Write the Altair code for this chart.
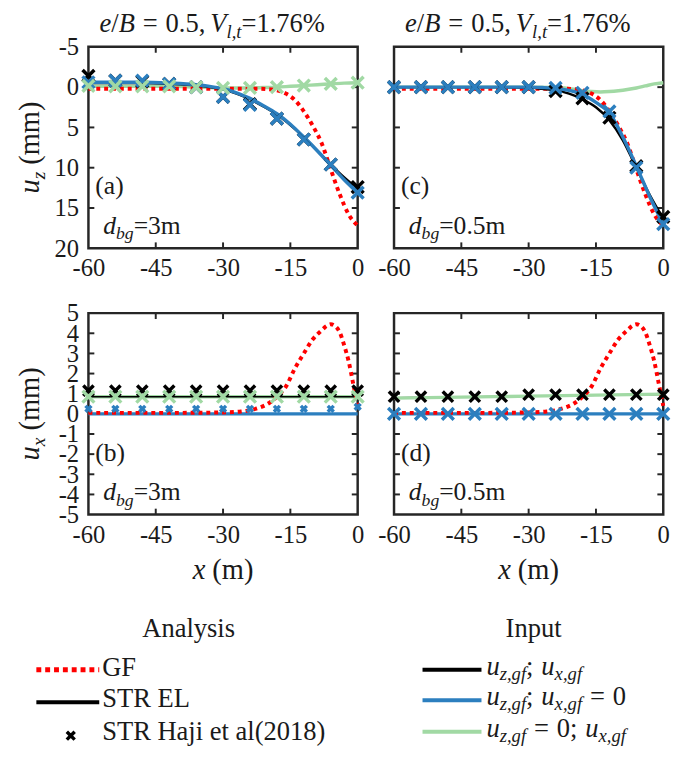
import altair as alt
import pandas as pd

FONT = "Liberation Serif, Times New Roman, serif"
TXT = "#1a1a1a"
FRAME = "#262626"
BLUE = "#2c7fbf"
GREEN = "#a1d9a4"
RED = "#ff0000"
BLACK = "#000000"
W, H = 274, 205

# ---------------- data ----------------
X_TICKS = [-60, -45, -30, -15, 0]
UZ_TICKS = [-5, 0, 5, 10, 15, 20]
UX_TICKS = [-5, -4, -3, -2, -1, 0, 1, 2, 3, 4, 5]
UZ_INNER = [0, 5, 10, 15]
UX_INNER = [-4, -3, -2, -1, 0, 1, 2, 3, 4]
X_INNER = [-45, -30, -15]

X_MARK = [-60, -54, -48, -42, -36, -30, -24, -18, -12, -6, 0]

# GF (greenfield) analysis
GF_UZ_X = [-60, -50, -40, -30, -26, -22, -20, -18, -16, -14, -12, -10, -8, -6, -4, -2, 0]
GF_UZ = [0.2, 0.2, 0.2, 0.2, 0.2, 0.2, 0.25, 0.4, 0.8, 1.6, 3.0, 4.8, 7.0, 10.2, 13.3, 15.8, 17.2]
GF_UX_X = [-60, -50, -40, -30, -26, -24, -22, -20, -18, -16, -14, -12, -10, -8, -7, -6, -5, -4, -3, -2, -1, 0]
GF_UX = [0.05, 0.05, 0.05, 0.07, 0.12, 0.18, 0.3, 0.5, 0.85, 1.35, 2.25, 3.0, 3.7, 4.15, 4.35, 4.45, 4.35, 4.05, 3.4, 2.6, 1.5, 0.4]

# panel (a): u_z, d_bg = 3 m
A_LINE_X = [-60, -54, -48, -42, -36, -33, -30, -27, -24, -21, -18, -15, -12, -9, -6, -3, 0]
A_BLACK = [-0.5, -0.5, -0.5, -0.4, -0.2, 0.0, 0.3, 0.8, 1.5, 2.4, 3.4, 4.7, 6.2, 7.9, 9.6, 11.2, 12.6]
A_BLUE = [-0.6, -0.6, -0.6, -0.5, -0.3, -0.1, 0.2, 0.7, 1.4, 2.3, 3.3, 4.6, 6.2, 7.9, 9.7, 11.5, 13.1]
A_GREEN = [-0.15, -0.1, -0.1, -0.1, 0.0, 0.05, 0.1, 0.1, 0.1, 0.05, 0.0, -0.1, -0.2, -0.3, -0.4, -0.5, -0.55]
A_BLACK_MK = [-1.4, -0.8, -0.7, -0.4, 0.0, 1.2, 2.1, 3.9, 6.5, 9.6, 12.4]
A_BLUE_MK = [-0.6, -0.8, -0.8, -0.4, 0.0, 1.2, 2.2, 3.9, 6.5, 9.6, 13.1]
A_GREEN_MK = [-0.15, -0.1, -0.1, -0.1, 0.0, 0.1, 0.1, 0.0, -0.2, -0.4, -0.55]

# panel (c): u_z, d_bg = 0.5 m
C_LINE_X = [-60, -48, -36, -30, -27, -24, -21, -18, -15, -12, -9, -6, -3, 0]
C_BLACK = [0.0, 0.0, 0.0, 0.05, 0.2, 0.4, 0.8, 1.5, 2.5, 4.1, 6.6, 10.0, 13.4, 16.3]
C_BLUE = [0.0, 0.0, 0.0, 0.0, 0.05, 0.15, 0.4, 0.9, 1.9, 3.2, 6.2, 9.8, 13.6, 17.0]
C_GREEN_X = [-60, -48, -36, -30, -24, -20, -18, -16, -14, -12, -10, -8, -6, -4, -2, 0]
C_GREEN = [0.0, 0.0, 0.0, 0.0, 0.05, 0.25, 0.45, 0.55, 0.6, 0.55, 0.45, 0.3, 0.1, -0.15, -0.4, -0.55]
C_BLACK_MK = [0.0, 0.0, 0.0, 0.0, 0.0, 0.0, 0.5, 1.4, 3.8, 9.8, 16.1]
C_BLUE_MK = [0.0, 0.0, 0.0, 0.0, 0.0, 0.0, 0.1, 0.7, 3.0, 10.0, 17.0]

# panel (b): u_x, d_bg = 3 m
B_LINE_X = [-60, -30, 0]
B_BLACK = [0.85, 0.85, 0.85]
B_BLUE = [0.0, 0.0, 0.0]
B_GREEN = [0.85, 0.85, 0.85]
B_BLACK_MK = [1.15, 1.15, 1.15, 1.15, 1.15, 1.15, 1.15, 1.15, 1.15, 1.15, 1.15]
B_BLUE_MK = [0.25, 0.25, 0.25, 0.25, 0.25, 0.25, 0.25, 0.25, 0.25, 0.25, 0.35]
B_GREEN_MK = [0.85, 0.85, 0.85, 0.85, 0.85, 0.85, 0.85, 0.85, 0.85, 0.85, 0.85]

# panel (d): u_x, d_bg = 0.5 m
D_LINE_X = [-60, -45, -30, -15, 0]
D_BLACK = [0.8, 0.84, 0.88, 0.92, 0.96]
D_BLUE = [0.0, 0.0, 0.0, 0.0, 0.0]
D_GREEN = [0.78, 0.83, 0.88, 0.93, 0.98]
D_BLACK_MK = [0.85, 0.85, 0.85, 0.85, 0.85, 0.95, 0.95, 0.95, 0.95, 0.95, 0.95]
D_BLUE_MK = [0.0, 0.0, 0.0, 0.0, 0.0, 0.0, 0.0, 0.0, 0.0, 0.0, 0.0]

# ---------------- text helpers ----------------
UP_W = {' ': .25, '(': .333, ')': .333, ',': .25, '.': .25, '/': .278, ';': .278, '=': .564,
        '%': .833, '-': .333, 'm': .778}
IT_W = {'B': .611, 'V': .611, 'b': .5, 'd': .5, 'e': .444, 'f': .278, 'g': .5, 'l': .278,
        't': .278, 'u': .5, 'x': .444, 'z': .389, ',': .25, '/': .278}


def twidth(s, size, italic):
    tbl = IT_W if italic else UP_W
    return sum(tbl.get(ch, .5) for ch in s) * size


ONE = pd.DataFrame({"k": [0]})


def seg(text, x, y, size=26, italic=False, angle=0, align="left"):
    props = dict(text=text, font=FONT, fontSize=size,
                 fontStyle="italic" if italic else "normal",
                 align=align, baseline="alphabetic", color=TXT)
    if angle:
        props["angle"] = angle
    return alt.Chart(ONE).mark_text(**props).encode(x=alt.value(x), y=alt.value(y))


def T(text, size, italic=False, dy=0):
    return ("t", text, size, italic, dy)


def G(px):
    return ("g", px)


def rich(parts, pos, base, center=False, vertical=False):
    total = sum(p[1] if p[0] == "g" else twidth(p[1], p[2], p[3]) for p in parts)
    if center:
        pos = pos + total / 2 if vertical else pos - total / 2
    out = []
    for p in parts:
        if p[0] == "g":
            pos = pos - p[1] if vertical else pos + p[1]
            continue
        _, t, size, it, dy = p
        w = twidth(t, size, it)
        if vertical:
            out.append(seg(t, base + dy, pos, size, it, angle=270))
            pos -= w
        else:
            out.append(seg(t, pos, base + dy, size, it))
            pos += w
    return out


def leg_rule(x1, x2, y, color, width, dash=None):
    kw = dict(color=color, strokeWidth=width)
    if dash:
        kw["strokeDash"] = dash
    return alt.Chart(ONE).mark_rule(**kw).encode(x=alt.value(x1), x2=alt.value(x2), y=alt.value(y))


# ---------------- chart helpers ----------------
XPATH = "M-1,-1L1,1M-1,1L1,-1"
XSCALE = alt.Scale(domain=[-60, 0], nice=False, zero=False)
UZ_SCALE = alt.Scale(domain=[-5, 20], reverse=True, nice=False, zero=False)
UX_SCALE = alt.Scale(domain=[-5, 5], nice=False, zero=False)


def axes(yticks, show_y):
    common = dict(grid=False, domain=False, ticks=False, labelFont=FONT,
                  labelFontSize=25, labelColor=TXT, labelOverlap=False,
                  labelFlush=False, labelExpr="datum.value + ''", title=None)
    xa = alt.Axis(values=X_TICKS, labelPadding=8, **common)
    ya = alt.Axis(values=yticks, labelPadding=10, **common) if show_y else None
    return xa, ya


def line(xs, ys, color, width, xe, ye, dash=None):
    df = pd.DataFrame({"x": xs, "y": ys})
    kw = dict(color=color, strokeWidth=width, interpolate="monotone")
    if dash:
        kw.update(strokeDash=dash, strokeCap="butt")
    return alt.Chart(df).mark_line(**kw).encode(x=xe, y=ye)


def marks(ys, color, size, sw, xe, ye):
    df = pd.DataFrame({"x": X_MARK, "y": ys})
    return alt.Chart(df).mark_point(shape=XPATH, filled=False, size=size, strokeWidth=sw,
                                    color=color, opacity=1).encode(x=xe, y=ye)


def ticks(inner_y, xe, ye):
    tx = pd.DataFrame({"x": X_INNER})
    ty = pd.DataFrame({"y": inner_y})
    st = dict(color=FRAME, strokeWidth=2)
    return [
        alt.Chart(tx).mark_rule(**st).encode(x=xe, y=alt.value(0), y2=alt.value(6)),
        alt.Chart(tx).mark_rule(**st).encode(x=xe, y=alt.value(H), y2=alt.value(H - 6)),
        alt.Chart(ty).mark_rule(**st).encode(y=ye, x=alt.value(0), x2=alt.value(6)),
        alt.Chart(ty).mark_rule(**st).encode(y=ye, x=alt.value(W), x2=alt.value(W - 6)),
    ]


def title_segs():
    s = 27
    parts = [T("e", s, True), T("/", s), T("B", s, True), G(8), T("=", s), G(8),
             T("0.5,", s), G(5), T("V", s, True), T("l,t", 19, True, 6), T("=1.76%", s)]
    return rich(parts, 126, -15, center=True)


def label_segs(letter, dbg):
    return [seg("(" + letter + ")", 7, 150)] + rich(
        [T("d", 26, True), T("bg", 18, True, 6), T("=" + dbg, 26)], 15, 190)


def ytitle_segs(sub):
    parts = [T("u", 29, True), T(sub, 20, True, 6), G(7), T("(mm)", 29)]
    return rich(parts, H / 2, -50, center=True, vertical=True)


def xtitle_segs():
    return rich([T("x", 29, True), G(7), T("(m)", 29)], W / 2, 271, center=True)


# ---------------- panels ----------------
def panel_a():
    xa, ya = axes(UZ_TICKS, True)
    xe = alt.X("x:Q", scale=XSCALE, axis=xa)
    ye = alt.Y("y:Q", scale=UZ_SCALE, axis=ya)
    layers = ticks(UZ_INNER, xe, ye) + [
        line(A_LINE_X, A_GREEN, GREEN, 3.5, xe, ye),
        line(GF_UZ_X, GF_UZ, RED, 4, xe, ye, dash=[4, 4]),
        line(A_LINE_X, A_BLACK, BLACK, 2.5, xe, ye),
        line(A_LINE_X, A_BLUE, BLUE, 3.5, xe, ye),
        marks(A_BLACK_MK, BLACK, 144, 3.5, xe, ye),
        marks(A_BLUE_MK, BLUE, 144, 3.5, xe, ye),
        marks(A_GREEN_MK, GREEN, 144, 3.5, xe, ye),
    ] + title_segs() + label_segs("a", "3m") + ytitle_segs("z")
    return alt.layer(*layers).properties(width=W, height=H)


def panel_c():
    xa, ya = axes(UZ_TICKS, False)
    xe = alt.X("x:Q", scale=XSCALE, axis=xa)
    ye = alt.Y("y:Q", scale=UZ_SCALE, axis=ya)
    layers = ticks(UZ_INNER, xe, ye) + [
        line(C_GREEN_X, C_GREEN, GREEN, 3.5, xe, ye),
        line(GF_UZ_X, GF_UZ, RED, 4, xe, ye, dash=[4, 4]),
        line(C_LINE_X, C_BLACK, BLACK, 2.5, xe, ye),
        line(C_LINE_X, C_BLUE, BLUE, 3.5, xe, ye),
        marks(C_BLACK_MK, BLACK, 144, 3.5, xe, ye),
        marks(C_BLUE_MK, BLUE, 144, 3.5, xe, ye),
    ] + title_segs() + label_segs("c", "0.5m")
    return alt.layer(*layers).properties(width=W, height=H)


def panel_b():
    xa, ya = axes(UX_TICKS, True)
    xe = alt.X("x:Q", scale=XSCALE, axis=xa)
    ye = alt.Y("y:Q", scale=UX_SCALE, axis=ya)
    legend = [
        seg("Analysis", 102, 330, 27, align="center"),
        leg_rule(-53, 11, 363, RED, 5, dash=[5, 4]),
        seg("GF", 14, 369, 27),
        leg_rule(-53, 11, 396, BLACK, 4),
        seg("STR EL", 14, 401, 27),
        alt.Chart(ONE).mark_point(shape=XPATH, filled=False, size=64, strokeWidth=3.5,
                                  color=BLACK, opacity=1).encode(x=alt.value(-18), y=alt.value(430)),
        seg("STR Haji et al(2018)", 14, 434, 27),
    ]
    layers = ticks(UX_INNER, xe, ye) + [
        line(B_LINE_X, B_GREEN, GREEN, 3.5, xe, ye),
        line(B_LINE_X, B_BLACK, BLACK, 1.5, xe, ye),
        line(B_LINE_X, B_BLUE, BLUE, 3.5, xe, ye),
        line(GF_UX_X, GF_UX, RED, 4, xe, ye, dash=[4, 4]),
        marks(B_BLACK_MK, BLACK, 110, 3.5, xe, ye),
        marks(B_BLUE_MK, BLUE, 36, 3.5, xe, ye),
        marks(B_GREEN_MK, GREEN, 144, 3.5, xe, ye),
    ] + label_segs("b", "3m") + ytitle_segs("x") + xtitle_segs() + legend
    return alt.layer(*layers).properties(width=W, height=H)


def legend_row(parts, y):
    return rich(parts, 94, y)


def panel_d():
    xa, ya = axes(UX_TICKS, False)
    xe = alt.X("x:Q", scale=XSCALE, axis=xa)
    ye = alt.Y("y:Q", scale=UX_SCALE, axis=ya)
    s, ss = 27, 19
    row1 = [T("u", s, True), T("z,gf", ss, True, 5), T(";", s), G(8), T("u", s, True), T("x,gf", ss, True, 5)]
    row2 = row1 + [G(8), T("=", s), G(8), T("0", s)]
    row3 = [T("u", s, True), T("z,gf", ss, True, 5), G(8), T("=", s), G(8), T("0;", s), G(8),
            T("u", s, True), T("x,gf", ss, True, 5)]
    legend = [
        seg("Input", 142, 330, 27, align="center"),
        leg_rule(29, 89, 363, BLACK, 4),
        leg_rule(29, 89, 394, BLUE, 4),
        leg_rule(29, 89, 426, GREEN, 4),
    ] + legend_row(row1, 368) + legend_row(row2, 399) + legend_row(row3, 431)
    layers = ticks(UX_INNER, xe, ye) + [
        line(D_LINE_X, D_BLACK, BLACK, 1.5, xe, ye),
        line(D_LINE_X, D_GREEN, GREEN, 3.5, xe, ye),
        line(D_LINE_X, D_BLUE, BLUE, 3.5, xe, ye),
        line(GF_UX_X, GF_UX, RED, 4, xe, ye, dash=[4, 4]),
        marks(D_BLUE_MK, BLUE, 144, 3.5, xe, ye),
        marks(D_BLACK_MK, BLACK, 110, 3.5, xe, ye),
    ] + label_segs("d", "0.5m") + xtitle_segs() + legend
    return alt.layer(*layers).properties(width=W, height=H)


chart = alt.concat(
    panel_a(), panel_c(), panel_b(), panel_d(),
    columns=2, spacing={"row": 66, "column": 37}, bounds="flush",
).properties(
    padding={"left": 15, "top": 2, "right": 0, "bottom": 0}
).configure_view(
    stroke=FRAME, strokeWidth=2.5
)

chart.save("out.html", embed_options={"renderer": "svg", "actions": False})
